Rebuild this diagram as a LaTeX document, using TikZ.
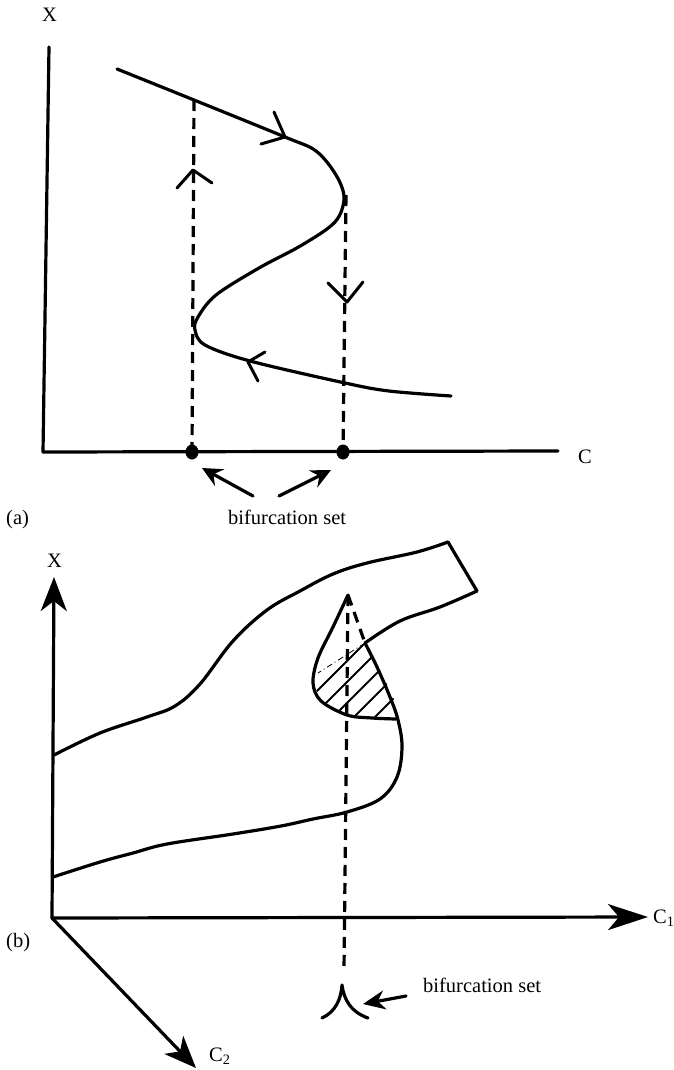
\documentclass[tikz,border=0pt]{standalone}
\usepackage{fontspec}
\setmainfont{Liberation Serif}
\usetikzlibrary{arrows.meta,shapes.geometric}
\begin{document}
\begin{tikzpicture}[x=1pt,y=-1pt,
  curve/.style={line width=3.2pt, line cap=round, line join=round},
  dashln/.style={line width=3.2pt, dash pattern=on 11pt off 7pt},
  barb/.style={line width=3pt, line cap=round, line join=round},
  lbl/.style={font=\fontsize{20.5}{24}\selectfont, inner sep=0pt, anchor=base west},
  dot/.style={ellipse, fill=black, inner sep=0pt, minimum width=13pt, minimum height=15pt},
  hatch/.style={line width=1.8pt},
  thinline/.style={line width=0.8pt, dash pattern=on 6pt off 3pt on 1pt off 3pt}]
\useasboundingbox (0,0) rectangle (674,1070);

% ---------------- (a) ----------------
\coordinate (aO) at (43,452);
\coordinate (aYt) at (49,47);
\coordinate (aXr) at (558,451);
\draw[curve] (aYt) -- (aO) -- (aXr);

\draw[curve] plot[smooth, tension=0.55] coordinates {(117,69) (194,100) (285,137) (316,151) (336,175) (344,198) (335,222) (302,245) (259,268) (216,295) (198,317) (195,330) (205,345) (250,361) (345,383) (389,391) (451,396)};

\coordinate (uL) at (194,100);
\coordinate (uR) at (346,195);
\node[dot] (d1) at (192,452) {};
\node[dot] (d2) at (343,452) {};
\draw[dashln] (uL) -- (d1.center);
\draw[dashln] (uR) -- (d2.center);

% open arrow heads
\draw[barb] (274,112) -- (285,137) -- (261,144);
\draw[barb] (265,352) -- (248,362) -- (258,381);
\draw[barb] (177,188) -- (193,170) -- (212,183);
\draw[barb] (328,283) -- (347,302) -- (363,282);

% arrows to bifurcation points
\coordinate (arL) at (253,496);
\coordinate (atL) at (202,468);
\coordinate (arR) at (279,496);
\coordinate (atR) at (331,470);
\draw[curve, -{Stealth[length=20pt,width=19pt,inset=7pt]}] (arL) -- (atL);
\draw[curve, -{Stealth[length=20pt,width=19pt,inset=7pt]}] (arR) -- (atR);

\node[lbl] (aX) at (42,22) {X};
\node[lbl] (aC) at (578,463) {C};
\node[lbl] (alab) at (6,524) {(a)};
\node[lbl] (abif) at (228,524) {bifurcation set};

% ---------------- (b) ----------------
\coordinate (bO) at (52,918);
\coordinate (bYt) at (54,577);
\coordinate (bC1) at (648,917);
\coordinate (bC2) at (196,1068);
\draw[curve, -{Stealth[length=34pt,width=26pt,inset=10pt]}] (bO) -- (bYt);
\draw[curve, -{Stealth[length=40pt,width=26pt,inset=11pt]}] (bO) -- (bC1);
\draw[curve, -{Stealth[length=32pt,width=26pt,inset=9pt]}] (bO) -- (bC2);

% upper edge of surface
\draw[curve] plot[smooth, tension=0.6] coordinates {(54,755) (100,733) (147,717) (175,706) (200,684) (233,641) (267,610) (300,591) (333,574) (367,563) (417,552) (448,542)};
\coordinate (tR1) at (448,542);
\coordinate (tR2) at (477,591);
\draw[curve] (tR1) -- (tR2);
\coordinate (F) at (365,643);
\draw[curve] plot[smooth, tension=0.6] coordinates {(477,591) (440,607) (400,621) (365,643)};
\draw[curve] plot[smooth, tension=0.6] coordinates {(365,643) (377,667) (390,697) (398,720) (402,747) (397,777) (380,799) (347,812) (313,819) (281,826) (233,834) (167,844) (133,853) (100,862) (53,877)};

% lip (cusp fold)
\coordinate (A) at (348,595);
\draw[curve] plot[smooth, tension=0.55] coordinates {(348,595) (333,627) (318,658) (313,683) (321,701) (347,715) (372,718) (396,719)};

% hatching
\begin{scope}
\clip (365,643) -- (317,674) -- (314,686) -- (322,701) -- (347,715) -- (372,718) -- (397,719) -- (398,706) -- (391,694) -- (384,677) -- (376,664) -- cycle;
\foreach \c in {1008,1029,1050,1071,1092}
  \draw[hatch] (300,{\c-300}) -- (420,{\c-420});
\end{scope}
\draw[thinline] (F) -- (318,673);

% dashed lines
\coordinate (Bd) at (344,970);
\draw[dashln] (A) -- (F);
\draw[dashln] (A) -- (Bd);

% cusp (bifurcation set)
\coordinate (cL) at (322,1018);
\coordinate (cT) at (342,985);
\coordinate (cR) at (368,1018);
\draw[curve] (cL) .. controls (335,1012) and (341,1000) .. (cT) .. controls (344,1000) and (351,1012) .. (cR);
\coordinate (barS) at (406,996);
\coordinate (barT) at (363,1004);
\draw[curve, -{Stealth[length=22pt,width=19pt,inset=7pt]}] (barS) -- (barT);

\node[lbl] (bX) at (47,567) {X};
\node[lbl] (bC1l) at (653,923) {C\textsubscript{1}};
\node[lbl] (bC2l) at (209,1061) {C\textsubscript{2}};
\node[lbl] (blab) at (6,947) {(b)};
\node[lbl] (bbif) at (423,992) {bifurcation set};
\end{tikzpicture}
\end{document}
